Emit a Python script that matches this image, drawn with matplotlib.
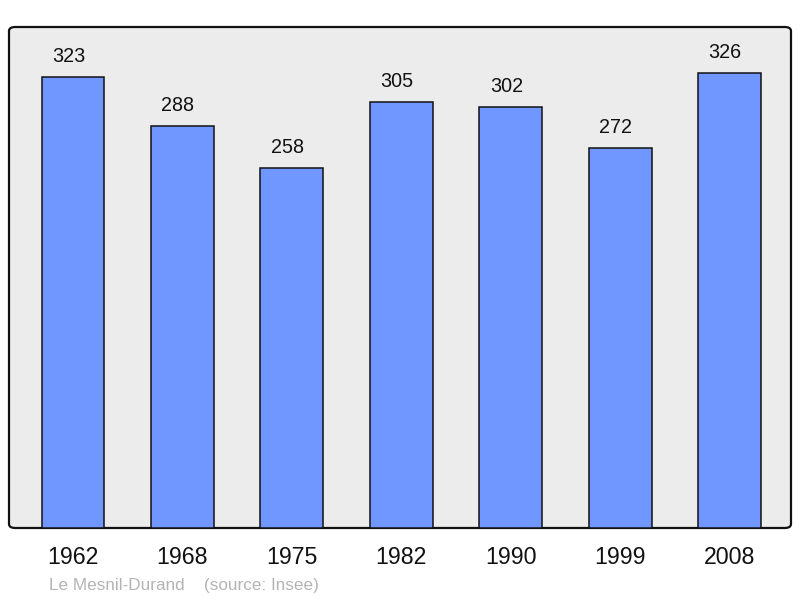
import matplotlib
matplotlib.use("Agg")
import matplotlib.pyplot as plt
from matplotlib.patches import FancyBboxPatch

years = ["1962", "1968", "1975", "1982", "1990", "1999", "2008"]
population = [323, 288, 258, 305, 302, 272, 326]

plt.rcParams['font.family'] = ['Liberation Sans', 'DejaVu Sans']

fig = plt.figure(figsize=(8.0, 5.98), dpi=100)
W, H = 800, 598
left, right, top, bottom = 9, 791, 27, 528
ax = fig.add_axes([left / W, 1 - bottom / H, (right - left) / W, (bottom - top) / H])
ax.set_facecolor('none')

# rounded frame background
frame = FancyBboxPatch((0, 0), 1, 1,
                       boxstyle="round,pad=0,rounding_size=0.008",
                       transform=ax.transAxes, facecolor='#ececec',
                       edgecolor='#111111', linewidth=1.6, zorder=0, clip_on=False)
ax.add_patch(frame)

x = list(range(len(years)))
ax.bar(x, population, width=0.575, color='#7096ff', edgecolor='#111111', linewidth=1.1, zorder=2)
for xi, v in zip(x, population):
    ax.annotate(str(v), (xi, v), xytext=(-4.5, 15), textcoords='offset pixels',
                ha='center', va='baseline', fontsize=14.2, color='#111111')

ax.set_xlim(-0.585, 6.56)
ax.set_ylim(0, 359)
for s in ax.spines.values():
    s.set_visible(False)
ax.set_yticks([])
ax.set_xticks(x)
ax.set_xticklabels(years, fontsize=16.7, color='#111111')
ax.tick_params(axis='x', length=0, pad=13)

fig.text(49 / W, 1 - 590 / H, "Le Mesnil-Durand", fontsize=12.3,
         color='#b4b4b4', ha='left', va='baseline')
fig.text(204 / W, 1 - 590 / H, "(source: Insee)", fontsize=12.3,
         color='#b4b4b4', ha='left', va='baseline')

fig.savefig("out.png", dpi=100)
